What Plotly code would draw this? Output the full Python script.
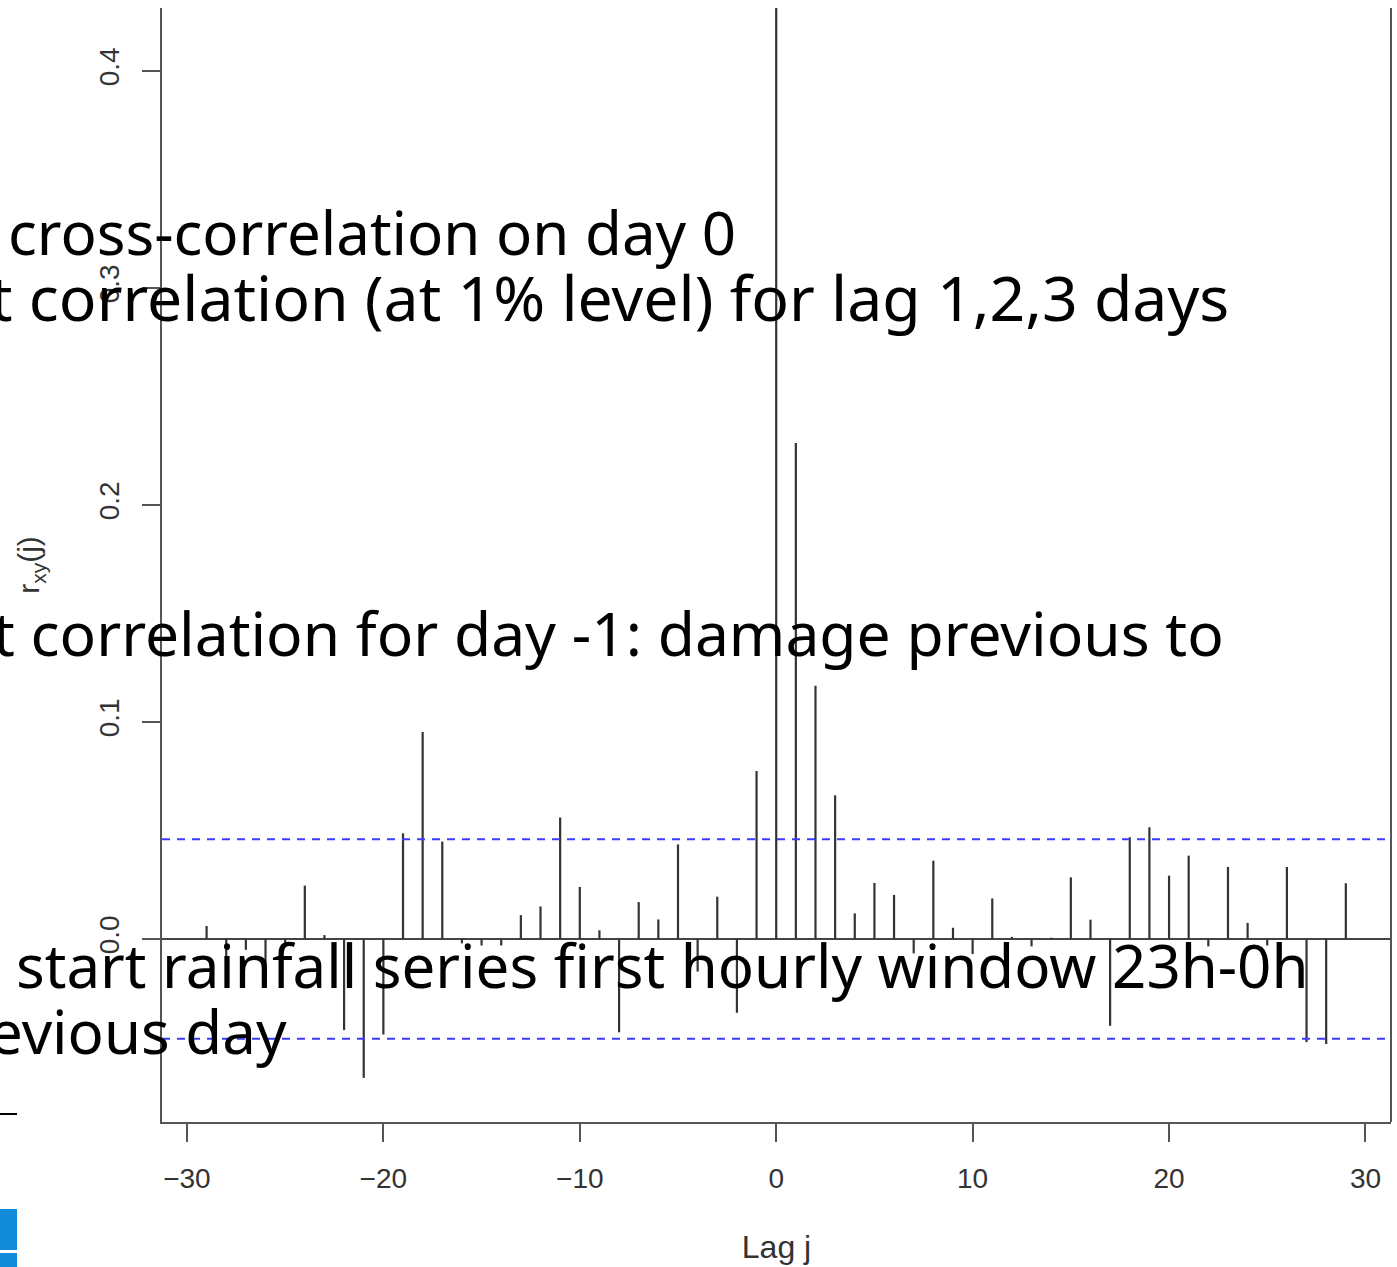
import plotly.graph_objects as go

# ---------------- data ----------------
lags = list(range(-30, 31))
ccf = [
    0.000, 0.006, -0.020, -0.005, -0.017, -0.003, 0.0246, 0.0018, -0.042, -0.064,
    -0.044, 0.0487, 0.0954, 0.0449, -0.002, -0.003, -0.003, 0.011, 0.015, 0.056,
    0.024, 0.004, -0.043, 0.017, 0.009, 0.0436, -0.015, 0.0195, -0.034, 0.0774,
    0.45,
    0.2286, 0.1167, 0.0662, 0.0118, 0.0258, 0.0203, -0.0066, 0.0361, 0.0052, -0.0069,
    0.0187, 0.001, -0.0034, 0.0006, 0.0284, 0.0089, -0.040, 0.0469, 0.0515, 0.0292,
    0.0384, -0.0034, 0.0332, 0.0074, -0.003, 0.0332, -0.0475, -0.0484, 0.0257, 0.000,
]
conf_limit = 0.046
x_ticks = [-30, -20, -10, 0, 10, 20, 30]
y_ticks = [0.0, 0.1, 0.2, 0.3, 0.4]

notes = [
    "cross-correlation on day 0",
    "t correlation (at 1% level) for lag 1,2,3 days",
    "t correlation for day -1: damage previous to",
    "start rainfall series first hourly window 23h-0h",
    "evious day",
]

# ---------------- layout helpers ----------------
W, H = 1397, 1267
ML, MR, MT, MB = 162, 6, 8, 145
PW, PH = W - ML - MR, H - MT - MB


def px_x(px):
    return (px - ML) / PW


def px_y(py):
    return (H - MB - py) / PH


# stems built from data
sx, sy = [], []
for l, v in zip(lags, ccf):
    sx += [l, l, None]
    sy += [0, v, None]

fig = go.Figure()
fig.add_trace(go.Scatter(x=sx, y=sy, mode="lines",
                         line=dict(color="#333333", width=2.2),
                         hoverinfo="skip", showlegend=False))

for c in (conf_limit, -conf_limit):
    fig.add_shape(type="line", xref="paper", x0=0, x1=1, yref="y", y0=c, y1=c,
                  line=dict(color="#3b3bff", width=2, dash="8px,7px"))

# right border of box
fig.add_shape(type="line", xref="paper", x0=1, x1=1, yref="paper", y0=0, y1=1,
              line=dict(color="#555555", width=2))

tick_font = dict(family="Liberation Sans, Arial, sans-serif", size=28, color="#333333")

fig.update_layout(
    width=W, height=H,
    margin=dict(l=ML, r=MR, t=MT, b=MB),
    paper_bgcolor="white", plot_bgcolor="white",
    xaxis=dict(range=[-31.27, 31.3], tickvals=x_ticks, showgrid=False, zeroline=False,
               showline=True, linecolor="#555555", linewidth=2,
               ticks="outside", ticklen=18, tickwidth=2, tickcolor="#555555",
               tickfont=tick_font, ticklabelstandoff=12,
               title=dict(text="Lag j", font=dict(family="Liberation Sans, Arial, sans-serif",
                                                  size=32, color="#333333"), standoff=43)),
    yaxis=dict(range=[(939 - 1122) / 2170, (939 - 8) / 2170], tickvals=y_ticks,
               tickformat=".1f", tickangle=-90, showgrid=False,
               zeroline=True, zerolinecolor="#444444", zerolinewidth=2,
               showline=True, linecolor="#555555", linewidth=2,
               ticks="outside", ticklen=18, tickwidth=2, tickcolor="#555555",
               tickfont=tick_font, ticklabelstandoff=12,
               title=dict(text="r<sub>xy</sub>(j)",
                          font=dict(family="Liberation Sans, Arial, sans-serif",
                                    size=30, color="#333333"), standoff=45)),
)

# overlay notes (right ends, baselines in pixels, font sizes)
note_pos = [(738, 252, 60), (1231, 317, 62.5), (1226, 652, 60.5), (1311, 985, 60), (289, 1051, 60)]
for txt, (rx, base, fs) in zip(notes, note_pos):
    fig.add_annotation(text=txt, xref="paper", yref="paper",
                       x=px_x(rx), y=px_y(base - 0.33 * fs),
                       xanchor="right", yanchor="middle", showarrow=False,
                       font=dict(family="Noto Sans, DejaVu Sans, sans-serif",
                                 size=fs, color="black"))

# slide fragments at the left edge
fig.add_shape(type="line", xref="paper", yref="paper",
              x0=px_x(-2), x1=px_x(17), y0=px_y(1114), y1=px_y(1114),
              line=dict(color="black", width=2))
for (y0, y1) in [(1209, 1250), (1253, 1270)]:
    fig.add_shape(type="rect", xref="paper", yref="paper",
                  x0=px_x(-2), x1=px_x(17), y0=px_y(y1), y1=px_y(y0),
                  line=dict(width=0), fillcolor="#118ad9")

fig.write_html("out.html")
